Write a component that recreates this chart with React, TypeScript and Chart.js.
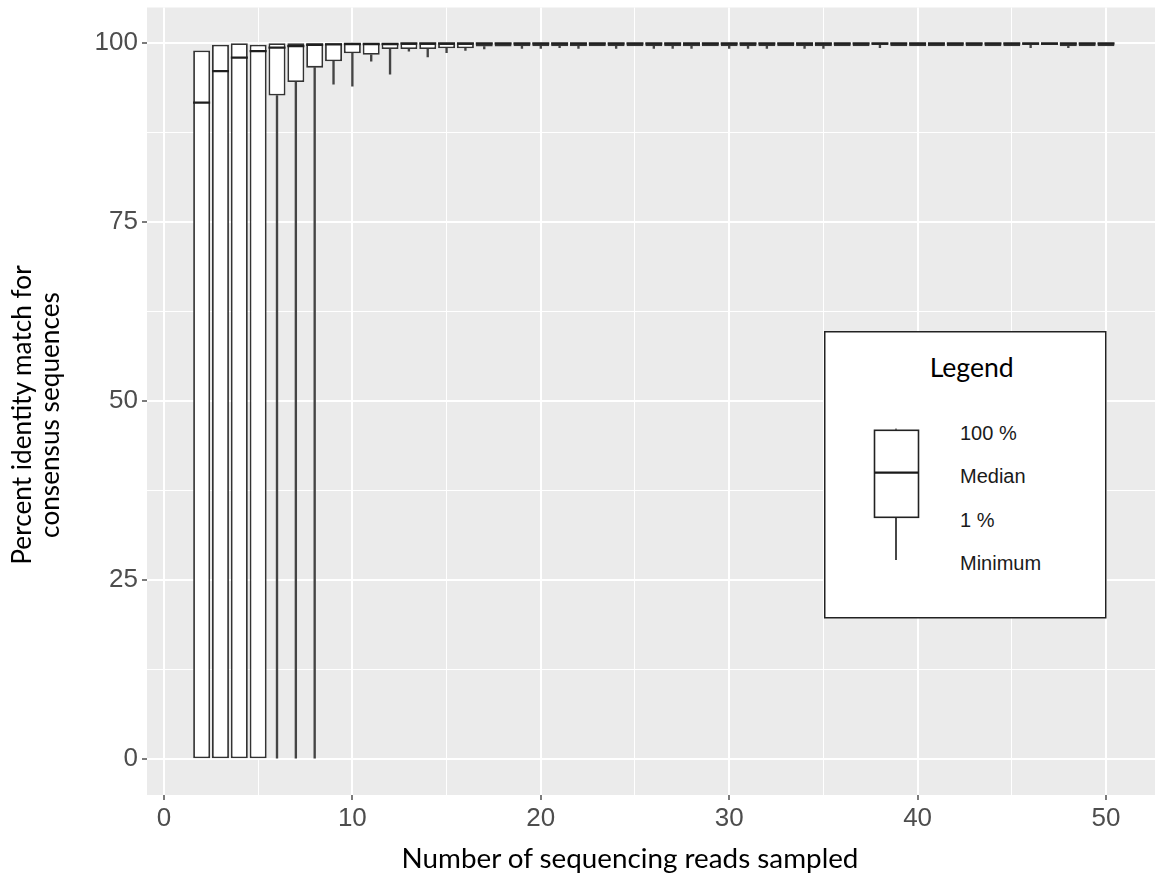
import React, { useEffect, useRef } from 'react';
import { Chart, registerables } from 'chart.js';

Chart.register(...registerables);

// Number of sequencing reads sampled (x positions of the boxes)
const READS = [
  2, 3, 4, 5, 6, 7, 8, 9, 10, 11, 12, 13, 14, 15, 16, 17, 18, 19, 20, 21, 22, 23, 24, 25, 26,
  27, 28, 29, 30, 31, 32, 33, 34, 35, 36, 37, 38, 39, 40, 41, 42, 43, 44, 45, 46, 47, 48, 49, 50,
];

// "100 %" – top of each box
const BOX_TOP = [
  99.0, 99.8, 100, 99.8, 100, 100, 100, 100, 100, 100, 100, 100, 100, 100, 100, 100, 100, 100, 100,
  100, 100, 100, 100, 100, 100, 100, 100, 100, 100, 100, 100, 100, 100, 100, 100, 100, 100, 100,
  100, 100, 100, 100, 100, 100, 100, 100, 100, 100, 100,
];

// Median
const MEDIAN = [
  91.7, 96.1, 98.0, 98.9, 99.4, 99.6, 99.8, 99.85, 99.9, 99.9, 99.9, 100, 100, 100, 100, 100, 100,
  100, 100, 100, 100, 100, 100, 100, 100, 100, 100, 100, 100, 100, 100, 100, 100, 100, 100, 100,
  100, 100, 100, 100, 100, 100, 100, 100, 100, 100, 100, 100, 100,
];

// "1 %" – bottom of each box
const BOX_BOTTOM = [
  0, 0, 0, 0, 92.7, 94.6, 96.6, 97.5, 98.6, 98.4, 99.2, 99.2, 99.2, 99.3, 99.3, 99.55, 99.55, 99.6,
  99.6, 99.6, 99.6, 99.6, 99.6, 99.6, 99.6, 99.6, 99.6, 99.6, 99.6, 99.6, 99.6, 99.6, 99.6, 99.6,
  99.6, 99.6, 99.75, 99.6, 99.6, 99.6, 99.6, 99.6, 99.6, 99.6, 99.75, 99.75, 99.6, 99.6, 99.6,
];

// Minimum – end of the lower whisker
const MINIMUM = [
  0, 0, 0, 0, 0, 0, 0, 94.3, 94.0, 97.5, 95.7, 98.9, 98.1, 98.7, 99.0, 99.2, 99.55, 99.3, 99.3,
  99.4, 99.3, 99.6, 99.3, 99.6, 99.3, 99.3, 99.3, 99.6, 99.3, 99.3, 99.3, 99.6, 99.3, 99.3, 99.6,
  99.6, 99.4, 99.6, 99.6, 99.6, 99.6, 99.6, 99.6, 99.6, 99.4, 99.75, 99.4, 99.6, 99.6,
];

const Y_GRID = [0, 12.5, 25, 37.5, 50, 62.5, 75, 87.5, 100];
const Y_MAJOR = [0, 25, 50, 75, 100];
const Y_TICK_LABELS = ['0', '25', '50', '75', '100'];

const X_GRID = [0, 5, 10, 15, 20, 25, 30, 35, 40, 45, 50];
const X_MAJOR = [0, 10, 20, 30, 40, 50];
const X_TICK_LABELS = ['0', '10', '20', '30', '40', '50'];

const X_TITLE = 'Number of sequencing reads sampled';
const Y_TITLE_LINES = ['Percent identity match for', 'consensus sequences'];
const LEGEND_TITLE = 'Legend';
const LEGEND_LABELS = ['100 %', 'Median', '1 %', 'Minimum'];

const W = 1155;
const H = 875;
const TICK_FONT = { family: '"Liberation Sans", Arial, sans-serif', size: 26 };
const TICK_COLOR = '#4D4D4D';

const panelBg = {
  id: 'panelBg',
  beforeDraw(chart: any) {
    const { ctx, chartArea } = chart;
    ctx.save();
    ctx.fillStyle = '#EBEBEB';
    ctx.fillRect(chartArea.left, chartArea.top, chartArea.right - chartArea.left, chartArea.bottom - chartArea.top);
    ctx.restore();
  },
};

const noPad = (s: any) => {
  s.paddingTop = 0;
  s.paddingBottom = 0;
  s.paddingLeft = 0;
  s.paddingRight = 0;
};

export default function App() {
  const ref = useRef<HTMLCanvasElement | null>(null);

  useEffect(() => {
    if (!ref.current) return;
    const chart = new Chart(ref.current, {
      type: 'bar',
      data: {
        datasets: [
          {
            type: 'bar',
            label: 'Minimum',
            data: READS.map((x, i) => ({
              x,
              y: MINIMUM[i] < BOX_BOTTOM[i] ? [MINIMUM[i], BOX_BOTTOM[i]] : null,
            })) as any,
            backgroundColor: '#444444',
            barThickness: 1.7,
            grouped: false,
            order: 3,
          } as any,
          {
            type: 'bar',
            label: 'Box',
            data: READS.map((x, i) => ({ x, y: [BOX_BOTTOM[i], BOX_TOP[i]] })) as any,
            backgroundColor: '#FFFFFF',
            borderColor: '#333333',
            borderWidth: 1.8,
            borderSkipped: false,
            barPercentage: 0.9,
            categoryPercentage: 1,
            grouped: false,
            order: 2,
          } as any,
          {
            type: 'line',
            label: 'Median',
            data: READS.map((x, i) => ({ x, y: MEDIAN[i] })) as any,
            showLine: false,
            pointStyle: 'line',
            pointRadius: 8.5,
            pointHoverRadius: 8.5,
            pointBorderWidth: 2.3,
            pointBorderColor: '#1f1f1f',
            borderColor: '#1f1f1f',
            order: 1,
          } as any,
        ],
      },
      options: {
        responsive: false,
        maintainAspectRatio: false,
        animation: false,
        devicePixelRatio: 1,
        events: [],
        layout: { autoPadding: false, padding: { left: 0, right: 0, top: 7.5, bottom: 0 } },
        plugins: { legend: { display: false }, tooltip: { enabled: false } },
        scales: {
          x: {
            type: 'linear',
            min: -0.9,
            max: 52.6,
            offset: false,
            afterBuildTicks: (s: any) => {
              s.ticks = X_GRID.map((v) => ({ value: v }));
            },
            afterFit: (s: any) => {
              s.height = 80;
              noPad(s);
            },
            border: { display: false },
            grid: {
              offset: false,
              color: '#FFFFFF',
              lineWidth: (c: any) => (X_MAJOR.includes(c.tick?.value) ? 2 : 1),
              drawTicks: true,
              tickLength: 5,
              tickWidth: 1.3,
              tickColor: (c: any) => (X_MAJOR.includes(c.tick?.value) ? '#333333' : 'rgba(0,0,0,0)'),
            },
            ticks: {
              autoSkip: false,
              maxRotation: 0,
              minRotation: 0,
              padding: 3,
              color: TICK_COLOR,
              font: TICK_FONT,
              callback: (v: any) => {
                const i = X_MAJOR.indexOf(Number(v));
                return i >= 0 ? X_TICK_LABELS[i] : '';
              },
            },
          },
          y: {
            type: 'linear',
            min: -5,
            max: 105,
            afterBuildTicks: (s: any) => {
              s.ticks = Y_GRID.map((v) => ({ value: v }));
            },
            afterFit: (s: any) => {
              s.width = 147;
              noPad(s);
            },
            border: { display: false },
            grid: {
              offset: false,
              color: '#FFFFFF',
              lineWidth: (c: any) => (Y_MAJOR.includes(c.tick?.value) ? 2 : 1),
              drawTicks: true,
              tickLength: 5,
              tickWidth: 1.3,
              tickColor: (c: any) => (Y_MAJOR.includes(c.tick?.value) ? '#333333' : 'rgba(0,0,0,0)'),
            },
            ticks: {
              autoSkip: false,
              padding: 4,
              color: TICK_COLOR,
              font: TICK_FONT,
              callback: (v: any) => {
                const i = Y_MAJOR.indexOf(Number(v));
                return i >= 0 ? Y_TICK_LABELS[i] : '';
              },
            },
          },
        },
      },
      plugins: [panelBg],
    } as any);
    return () => chart.destroy();
  }, []);

  const legendY = [109, 152.3, 195.7, 239];

  return (
    <div style={{ position: 'absolute', left: 0, top: 0, width: W, height: H, overflow: 'hidden', background: '#fff' }}>
      <canvas ref={ref} width={W} height={H} style={{ display: 'block', width: W, height: H }} />
      <svg
        width={W}
        height={H}
        style={{ position: 'absolute', left: 0, top: 0, pointerEvents: 'none' }}
      >
        <text x={630} y={868} textAnchor="middle" fontFamily="Lato, sans-serif" fontSize={27.8} fill="#000">
          {X_TITLE}
        </text>
        {Y_TITLE_LINES.map((t, i) => (
          <text
            key={t}
            transform={`translate(${31 + i * 28},415) rotate(-90)`}
            textAnchor="middle"
            fontFamily="Lato, sans-serif"
            fontSize={26.2}
            fill="#000"
          >
            {t}
          </text>
        ))}
        <g transform="translate(824,331)">
          <rect x={0.75} y={0.75} width={281} height={286} fill="#fff" stroke="#222" strokeWidth={1.5} />
          <text x={147.7} y={45.7} textAnchor="middle" fontFamily="Lato, sans-serif" fontSize={26.6} fill="#000">
            {LEGEND_TITLE}
          </text>
          <line x1={72} y1={186.3} x2={72} y2={229} stroke="#333" strokeWidth={1.8} />
          <line x1={72} y1={97.5} x2={72} y2={99.3} stroke="#333" strokeWidth={1.2} />
          <rect x={50.5} y={99.3} width={44} height={87} fill="#fff" stroke="#222" strokeWidth={1.6} />
          <line x1={50.5} y1={141.7} x2={94.5} y2={141.7} stroke="#1a1a1a" strokeWidth={2.2} />
          {LEGEND_LABELS.map((t, i) => (
            <text key={t} x={136} y={legendY[i]} fontFamily='"Liberation Sans", Arial, sans-serif' fontSize={20} fill="#1a1a1a">
              {t}
            </text>
          ))}
        </g>
      </svg>
    </div>
  );
}
